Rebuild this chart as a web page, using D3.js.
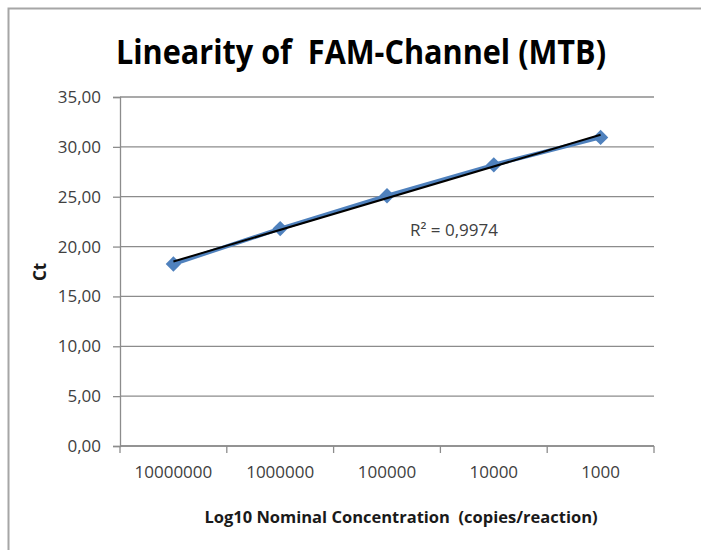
<!DOCTYPE html>
<html>
<head>
<meta charset="utf-8">
<script src="https://cdn.jsdelivr.net/npm/d3@7"></script>
<style>
    body { margin: 0; background: #fff; }
    svg text { font-family: "Open Sans", "Noto Sans", sans-serif; }
</style>
</head>
<body>
<svg id="chart" width="701" height="550"></svg>
<script>
(function (d3) {

    /***** Data *****/
    var categories = ["10000000", "1000000", "100000", "10000", "1000"];
    var ctValues = [18.25, 21.8, 25.1, 28.2, 30.95];
    var yTicks = [0, 5, 10, 15, 20, 25, 30, 35];
    var rSquaredLabel = "R² = 0,9974";

    /***** Configuration *****/
    var margin = { top: 97, right: 47, bottom: 104, left: 120 };
    var width = 701 - margin.left - margin.right;
    var height = 550 - margin.top - margin.bottom;

    var svg = d3.select("#chart");

    // outer chart border (left and top only visible)
    svg.append("path")
       .attr("d", "M8.5,550 V8.5 H701")
       .attr("fill", "none")
       .attr("stroke", "#a6a6a6")
       .attr("stroke-width", 2);

    svg.append("text")
       .attr("x", 361)
       .attr("y", 64)
       .attr("text-anchor", "middle")
       .attr("textLength", 490)
       .attr("lengthAdjust", "spacingAndGlyphs")
       .style("font-size", "34px")
       .style("font-weight", "bold")
       .attr("fill", "#000")
       .attr("xml:space", "preserve")
       .text("Linearity of  FAM-Channel (MTB)");

    var g = svg.append("g")
               .attr("transform", "translate(" + margin.left + "," + margin.top + ")");

    /***** Scales *****/
    var x = d3.scaleBand().domain(categories).range([0, width]);
    var y = d3.scaleLinear().domain([0, 35]).range([height, 0]);
    var fmt = function (v) { return d3.format(".2f")(v).replace(".", ","); };

    /***** Grid *****/
    g.selectAll(".grid")
     .data(yTicks)
     .enter().append("line")
     .attr("x1", 0).attr("x2", width)
     .attr("y1", function (d) { return y(d); })
     .attr("y2", function (d) { return y(d); })
     .attr("stroke", "#8c8c8c")
     .attr("stroke-width", 1.3);

    /***** Axes *****/
    var yAxis = d3.axisLeft(y).tickValues(yTicks).tickFormat(fmt).tickSize(7).tickPadding(12);
    var yG = g.append("g").call(yAxis);
    yG.select(".domain").attr("stroke", "#8c8c8c").attr("stroke-width", 1.3);
    yG.selectAll(".tick line").attr("stroke", "#8c8c8c").attr("stroke-width", 1.3);
    yG.selectAll("text").style("font-size", "17px").attr("fill", "#404040");

    // x axis: ticks at band boundaries, labels centered on bands
    var xG = g.append("g").attr("transform", "translate(0," + height + ")");
    xG.append("line")
      .attr("x1", 0).attr("x2", width)
      .attr("stroke", "#8c8c8c").attr("stroke-width", 1.3);
    var bounds = categories.map(function (c) { return x(c); }).concat([width]);
    xG.selectAll(".xtick")
      .data(bounds)
      .enter().append("line")
      .attr("x1", function (d) { return d; })
      .attr("x2", function (d) { return d; })
      .attr("y1", 0).attr("y2", 7)
      .attr("stroke", "#8c8c8c").attr("stroke-width", 1.3);
    xG.selectAll(".xlabel")
      .data(categories)
      .enter().append("text")
      .attr("x", function (d) { return x(d) + x.bandwidth() / 2; })
      .attr("y", 32)
      .attr("text-anchor", "middle")
      .style("font-size", "17px")
      .attr("fill", "#404040")
      .text(function (d) { return d; });

    /***** Axis titles *****/
    svg.append("text")
       .attr("x", 401)
       .attr("y", 523)
       .attr("text-anchor", "middle")
       .style("font-size", "16.5px")
       .style("font-weight", "bold")
       .attr("fill", "#1a1a1a")
       .attr("xml:space", "preserve")
       .text("Log10 Nominal Concentration  (copies/reaction)");

    svg.append("text")
       .attr("transform", "translate(46,272) rotate(-90)")
       .attr("text-anchor", "middle")
       .style("font-size", "17px")
       .style("font-weight", "bold")
       .attr("fill", "#1a1a1a")
       .text("Ct");

    /***** Series *****/
    var points = categories.map(function (c, i) { return { cat: c, idx: i + 1, ct: ctValues[i] }; });
    var cx = function (d) { return x(d.cat) + x.bandwidth() / 2; };

    g.append("path")
     .datum(points)
     .attr("fill", "none")
     .attr("stroke", "#4f81bd")
     .attr("stroke-width", 4)
     .attr("stroke-linejoin", "round")
     .attr("d", d3.line().x(cx).y(function (d) { return y(d.ct); }));

    g.selectAll(".marker")
     .data(points)
     .enter().append("path")
     .attr("transform", function (d) { return "translate(" + cx(d) + "," + y(d.ct) + ")"; })
     .attr("d", d3.symbol().type(d3.symbolDiamond2).size(150))
     .attr("fill", "#4f81bd");

    /***** Linear trendline *****/
    var n = points.length;
    var mx = d3.mean(points, function (d) { return d.idx; });
    var my = d3.mean(points, function (d) { return d.ct; });
    var sxy = d3.sum(points, function (d) { return (d.idx - mx) * (d.ct - my); });
    var sxx = d3.sum(points, function (d) { return (d.idx - mx) * (d.idx - mx); });
    var slope = sxy / sxx;
    var intercept = my - slope * mx;
    var trend = [points[0], points[n - 1]];

    g.append("path")
     .datum(trend)
     .attr("fill", "none")
     .attr("stroke", "#000")
     .attr("stroke-width", 2)
     .attr("d", d3.line().x(cx).y(function (d) { return y(intercept + slope * d.idx); }));

    g.append("text")
     .attr("x", 290)
     .attr("y", 139)
     .style("font-size", "17px")
     .attr("fill", "#404040")
     .text(rSquaredLabel);

})(d3);
</script>
</body>
</html>
